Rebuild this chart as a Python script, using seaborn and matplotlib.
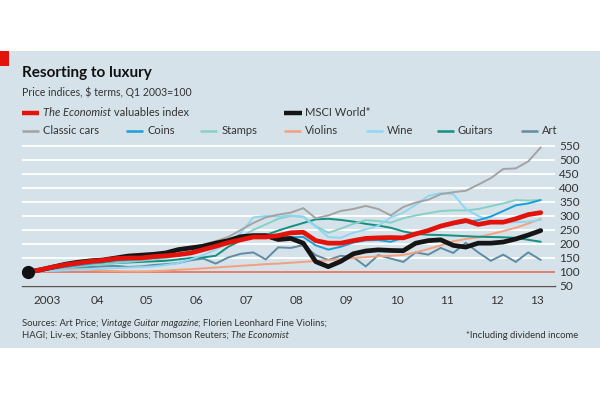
import matplotlib
matplotlib.use("Agg")
import matplotlib.pyplot as plt
import matplotlib.transforms as mtransforms
from matplotlib.lines import Line2D
from matplotlib.patches import Rectangle
from matplotlib import font_manager as fm
import seaborn as sns
import pandas as pd

# ---------------- data (quarterly, Q1 2003 = 100) ----------------
quarters = pd.period_range("2003Q1", "2013Q2", freq="Q")

economist = [100, 108, 118, 126, 132, 138, 142, 148, 150, 150, 155, 158, 162, 168, 180, 192,
             205, 215, 225, 225, 230, 240, 242, 212, 203, 203, 212, 220, 222, 223, 222, 236,
             248, 264, 275, 284, 270, 278, 278, 290, 305, 312]
msci = [100, 108, 118, 128, 135, 140, 143, 150, 157, 160, 163, 168, 180, 186, 192, 203,
        212, 226, 230, 230, 216, 220, 203, 137, 119, 138, 165, 175, 179, 177, 176, 203,
        212, 215, 195, 189, 203, 203, 207, 218, 232, 248]
classic_cars = [100, 108, 116, 124, 130, 134, 140, 145, 150, 153, 158, 165, 175, 185, 198, 210,
                225, 250, 275, 295, 305, 312, 328, 292, 302, 318, 325, 336, 325, 302, 332, 348,
                358, 378, 385, 390, 412, 435, 468, 470, 495, 545]
coins = [100, 106, 112, 118, 124, 130, 135, 140, 143, 146, 150, 155, 160, 168, 178, 190,
         205, 218, 228, 232, 226, 224, 225, 195, 180, 190, 205, 213, 214, 208, 222, 232,
         248, 260, 270, 278, 285, 298, 318, 338, 345, 357]
stamps = [100, 104, 110, 115, 120, 125, 128, 132, 136, 140, 145, 150, 158, 165, 175, 188,
          205, 225, 250, 270, 290, 300, 298, 264, 240, 255, 272, 285, 282, 276, 292, 302,
          310, 318, 320, 320, 325, 335, 345, 357, 355, 357]
violins = [100, 104, 108, 110, 110, 108, 105, 103, 102, 102, 103, 105, 108, 110, 113, 116,
           119, 122, 125, 128, 130, 133, 136, 139, 142, 146, 150, 153, 156, 158, 161, 170,
           182, 195, 210, 218, 224, 235, 246, 258, 273, 290]
wine = [100, 102, 104, 106, 108, 110, 112, 114, 116, 118, 120, 125, 132, 145, 160, 180,
        205, 240, 295, 300, 298, 302, 296, 262, 225, 222, 240, 252, 265, 295, 312, 340,
        372, 382, 378, 325, 300, 282, 276, 278, 280, 286]
guitars = [100, 106, 112, 118, 122, 126, 130, 132, 134, 136, 138, 140, 145, 150, 152, 158,
           190, 212, 222, 232, 248, 262, 275, 288, 290, 286, 280, 272, 266, 258, 245, 236,
           233, 232, 230, 228, 226, 225, 224, 222, 215, 208]
art = [100, 104, 108, 112, 115, 118, 120, 122, 118, 120, 125, 128, 132, 142, 148, 130,
       152, 165, 170, 145, 188, 186, 196, 160, 143, 158, 153, 120, 160, 148, 136, 170,
       162, 186, 168, 204, 170, 140, 162, 136, 170, 143]

legend_row1 = ["The Economist", "valuables index", "MSCI World*"]
legend_row2 = ["Classic cars", "Coins", "Stamps", "Violins", "Wine", "Guitars", "Art"]
year_labels = ["2003", "04", "05", "06", "07", "08", "09", "10", "11", "12", "13"]
y_ticks = [50, 100, 150, 200, 250, 300, 350, 400, 450, 500, 550]

title = "Resorting to luxury"
subtitle = "Price indices, $ terms, Q1 2003=100"
note = "*Including dividend income"

# ---------------- style ----------------
sns.set_theme(style="white")
avail = {f.name for f in fm.fontManager.ttflist}
FONT = "Liberation Sans Narrow" if "Liberation Sans Narrow" in avail else "Lato"
plt.rcParams["font.family"] = [FONT, "DejaVu Sans"]

PANEL = "#d6e2ea"
RED = "#e3120b"
TXT = "#333333"
W, H = 600, 400

x_vals = [q.year + (q.quarter - 0.5) / 4 for q in quarters]

series = [
    ("Art", art, "#5f8ba3", 1.4),
    ("Violins", violins, "#f4a07e", 1.4),
    ("Guitars", guitars, "#139080", 1.4),
    ("Stamps", stamps, "#86d0c6", 1.4),
    ("Wine", wine, "#8fd7f1", 1.4),
    ("Coins", coins, "#1a9ed8", 1.4),
    ("Classic cars", classic_cars, "#a3a3a3", 1.4),
    ("MSCI World*", msci, "#151515", 3.4),
    ("The Economist valuables index", economist, RED, 3.4),
]
colors = {name: c for name, _, c, _ in series}

fig = plt.figure(figsize=(6, 4), dpi=100)
fig.patch.set_facecolor("white")
fig.add_artist(Rectangle((0, 1 - 348 / H), 1, (348 - 51) / H, transform=fig.transFigure,
                         facecolor=PANEL, edgecolor="none", zorder=-2))
fig.add_artist(Rectangle((0, 1 - 66 / H), 9 / W, 15 / H, transform=fig.transFigure,
                         facecolor=RED, edgecolor="none", zorder=-1))

ax_left, ax_right, ax_bottom, ax_top = 22, 555, 286, 143.2
ax = fig.add_axes([ax_left / W, 1 - ax_bottom / H, (ax_right - ax_left) / W, (ax_bottom - ax_top) / H])
ax.set_facecolor("none")

for i, (name, vals, col, lw) in enumerate(series):
    df = pd.DataFrame({"x": x_vals, "value": vals})
    sns.lineplot(data=df, x="x", y="value", ax=ax, color=col, linewidth=lw,
                 zorder=3 + i, solid_joinstyle="miter" if lw < 2 else "round")

ax.axhline(100, color="#e07563", lw=1.3, zorder=2.5)
ax.plot([x_vals[0]], [economist[0]], "o", color="#111111", markersize=8.5, zorder=20, clip_on=False)

ax.set_xlim(2003, 2013.66)
ax.set_ylim(50, 560)
ax.set_xlabel("")
ax.set_ylabel("")

for s in ["top", "left", "right"]:
    ax.spines[s].set_visible(False)
ax.spines["bottom"].set_color("#555555")
ax.spines["bottom"].set_linewidth(1.0)

ax.set_yticks(y_ticks)
ax.set_yticklabels([str(v) for v in y_ticks])
ax.yaxis.tick_right()
ax.tick_params(axis="y", length=0, pad=3, labelsize=8.5, labelcolor=TXT)
ax.yaxis.grid(True, color="white", lw=1.3, zorder=1)
ax.set_axisbelow(True)

ax.set_xticks(list(range(2003, 2014)))
ax.set_xticks([q.year + (q.quarter - 1) / 4 for q in pd.period_range("2003Q1", "2013Q3", freq="Q")], minor=True)
ax.set_xticklabels([])
ax.tick_params(axis="x", which="major", direction="in", length=5, width=0.8, color="#555555")
ax.tick_params(axis="x", which="minor", direction="in", length=3, width=0.8, color="#555555")

trans = mtransforms.blended_transform_factory(ax.transData, ax.transAxes)
label_x = [y + 0.5 for y in range(2003, 2013)] + [2013.3]
for lx, lab in zip(label_x, year_labels):
    ax.text(lx, -15 / (ax_bottom - ax_top), lab, transform=trans, ha="center", va="center",
            fontsize=8.5, color=TXT)

# ---------------- header ----------------
fig.text(22 / W, 1 - 73 / H, title, fontsize=11, weight="bold", color="#111111", va="center")
fig.text(22 / W, 1 - 92 / H, subtitle, fontsize=7.6, color=TXT, va="center")

renderer = fig.canvas.get_renderer()


def runs(x_px, y_px, parts, size, color=TXT, ha="left"):
    x = x_px
    for txt, style in parts:
        t = fig.text(x / W, 1 - y_px / H, txt, fontsize=size, color=color, va="center",
                     ha="left", style=style)
        x += t.get_window_extent(renderer=renderer).width


def swatch(x0, x1, y_px, col, lw):
    fig.add_artist(Line2D([x0 / W, x1 / W], [1 - y_px / H] * 2, transform=fig.transFigure,
                          color=col, lw=lw, solid_capstyle="butt"))


swatch(22, 39, 113, RED, 3.2)
runs(43, 113, [(legend_row1[0], "italic"), (" " + legend_row1[1], "normal")], 8)
swatch(284, 302, 113, "#151515", 3.2)
runs(305, 113, [(legend_row1[2], "normal")], 8)

row2_pos = [(22, 43), (126, 147), (200, 222), (284, 305), (366, 387), (437, 458), (521, 542)]
for (sx, tx), lab in zip(row2_pos, legend_row2):
    swatch(sx, sx + 17, 131, colors[lab], 1.8)
    runs(tx, 131, [(lab, "normal")], 8)

# ---------------- footer ----------------
runs(22, 323, [("Sources: Art Price; ", "normal"), ("Vintage Guitar magazine", "italic"),
               ("; Florien Leonhard Fine Violins;", "normal")], 6.8)
runs(22, 335, [("HAGI; Liv-ex; Stanley Gibbons; Thomson Reuters; ", "normal"),
               ("The Economist", "italic")], 6.8)
fig.text(578 / W, 1 - 335 / H, note, fontsize=6.8, color=TXT, ha="right", va="center")

fig.savefig("out.png", dpi=100, facecolor="white")
